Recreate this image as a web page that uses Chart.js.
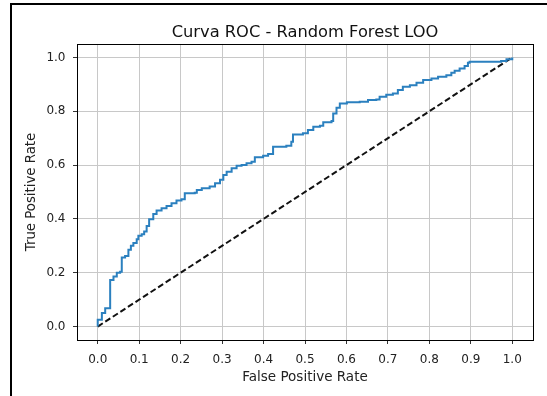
<!DOCTYPE html>
<html>
<head>
<meta charset="utf-8">
<script src="https://cdn.jsdelivr.net/npm/chart.js@4"></script>
<style>
  html, body { margin: 0; padding: 0; background: #fff; }
  #wrap { position: relative; width: 547px; height: 396px; overflow: hidden; }
  #frame { position: absolute; left: 10px; top: 3px; width: 600px; height: 450px; border: 2px solid #000; box-sizing: border-box; }
  #rocChart { position: absolute; left: 0; top: 0; }
</style>
</head>
<body>
<div id="wrap">
  <div id="frame"></div>
  <canvas id="rocChart" width="547" height="396"></canvas>
</div>
<script>
// curva ROC (leave-one-out)
var fpr = [0, 0, 0.01, 0.018, 0.03, 0.03, 0.038, 0.046, 0.054, 0.058,
  0.066, 0.074, 0.08, 0.086, 0.094, 0.098, 0.106, 0.112, 0.118, 0.124,
  0.134, 0.142, 0.154, 0.166, 0.178, 0.19, 0.202, 0.21, 0.234, 0.239,
  0.251, 0.27, 0.283, 0.295, 0.303, 0.311, 0.323, 0.335, 0.347, 0.359,
  0.371, 0.379, 0.399, 0.411, 0.423, 0.455, 0.467, 0.471, 0.495, 0.507,
  0.52, 0.536, 0.544, 0.564, 0.568, 0.576, 0.584, 0.601, 0.632, 0.652,
  0.672, 0.68, 0.696, 0.712, 0.724, 0.736, 0.753, 0.769, 0.785, 0.805,
  0.821, 0.841, 0.853, 0.861, 0.873, 0.885, 0.893, 0.897, 0.957, 0.973,
  0.986, 1.0];
var tpr = [0, 0.025, 0.05, 0.068, 0.068, 0.173, 0.186, 0.2, 0.204, 0.257,
  0.262, 0.285, 0.3, 0.31, 0.324, 0.337, 0.343, 0.353, 0.374, 0.399,
  0.418, 0.431, 0.44, 0.448, 0.458, 0.468, 0.473, 0.495, 0.497, 0.507,
  0.514, 0.52, 0.532, 0.545, 0.563, 0.575, 0.588, 0.597, 0.6, 0.607,
  0.612, 0.629, 0.635, 0.641, 0.668, 0.672, 0.687, 0.714, 0.718, 0.73,
  0.742, 0.746, 0.759, 0.764, 0.792, 0.813, 0.829, 0.833, 0.835, 0.842,
  0.844, 0.854, 0.861, 0.866, 0.879, 0.891, 0.897, 0.906, 0.916, 0.922,
  0.928, 0.934, 0.943, 0.95, 0.959, 0.968, 0.98, 0.984, 0.984, 0.987,
  0.993, 1.0];

// linea de referencia (azar)
var chanceX = [0, 1];
var chanceY = [0, 1];

var xTicks = [0, 0.1, 0.2, 0.3, 0.4, 0.5, 0.6, 0.7, 0.8, 0.9, 1.0];
var yTicks = [0, 0.2, 0.4, 0.6, 0.8, 1.0];

var RocController = {
  init: function () {
    RocController.renderChart();
  },

  toPoints: function (xs, ys) {
    return xs.map(function (x, i) { return {x: x, y: ys[i]}; });
  },

  renderChart: function () {
    var ctx = document.getElementById('rocChart');
    var font = "'DejaVu Sans', sans-serif";

    // marco completo alrededor del area del grafico
    var boxPlugin = {
      id: 'box',
      afterDraw: function (chart) {
        var a = chart.chartArea;
        var c = chart.ctx;
        c.save();
        c.strokeStyle = '#000';
        c.lineWidth = 1;
        c.strokeRect(Math.round(a.left) + 0.5, Math.round(a.top) + 0.5,
          Math.round(a.right - a.left), Math.round(a.bottom - a.top));
        c.restore();
      }
    };

    new Chart(ctx, {
      type: 'line',
      plugins: [boxPlugin],
      data: {
        datasets: [
          {
            data: RocController.toPoints(fpr, tpr),
            borderColor: '#2b80bf',
            borderWidth: 2,
            pointRadius: 0,
            stepped: 'before',
            fill: false,
          },
          {
            data: RocController.toPoints(chanceX, chanceY),
            borderColor: '#111',
            borderWidth: 2,
            borderDash: [6, 3],
            pointRadius: 0,
            fill: false,
          },
        ]
      },
      options: {
        responsive: false,
        animation: false,
        layout: {padding: {left: 0, right: 14, top: 0, bottom: 0}},
        plugins: {
          legend: {display: false},
          tooltip: {enabled: false},
          title: {
            display: true,
            fullSize: false,
            text: 'Curva ROC - Random Forest LOO',
            color: '#111',
            font: {family: font, size: 16.3, weight: 'normal', lineHeight: 1.2},
            padding: {top: 23.4, bottom: 1},
          },
        },
        scales: {
          x: {
            type: 'linear',
            min: -0.05,
            max: 1.05,
            afterBuildTicks: function (scale) {
              scale.ticks = xTicks.map(function (v) { return {value: v}; });
            },
            afterFit: function (scale) { scale.height = 56; },
            grid: {color: '#c8c8c8', lineWidth: 1, tickColor: '#333', tickLength: 4},
            border: {display: false},
            ticks: {
              color: '#222',
              font: {family: font, size: 12},
              padding: 9,
              maxRotation: 0,
              callback: function (v) { return v.toFixed(1); }
            },
            title: {
              display: true,
              text: 'False Positive Rate',
              color: '#222',
              font: {family: font, size: 13.5, lineHeight: 1.2},
              padding: {top: 0, bottom: 10.2},
            },
          },
          y: {
            type: 'linear',
            min: -0.05,
            max: 1.05,
            afterBuildTicks: function (scale) {
              scale.ticks = yTicks.map(function (v) { return {value: v}; });
            },
            afterFit: function (scale) { scale.width = 77; },
            grid: {color: '#c8c8c8', lineWidth: 1, tickColor: '#333', tickLength: 4},
            border: {display: false},
            ticks: {
              color: '#222',
              font: {family: font, size: 12},
              padding: 7.5,
              callback: function (v) { return v.toFixed(1); }
            },
            title: {
              display: true,
              text: 'True Positive Rate',
              color: '#222',
              font: {family: font, size: 13.3, lineHeight: 1.2},
              padding: {top: 23.5, bottom: 0},
            },
          }
        },
      }
    });
  },
};

RocController.init();
</script>
</body>
</html>
